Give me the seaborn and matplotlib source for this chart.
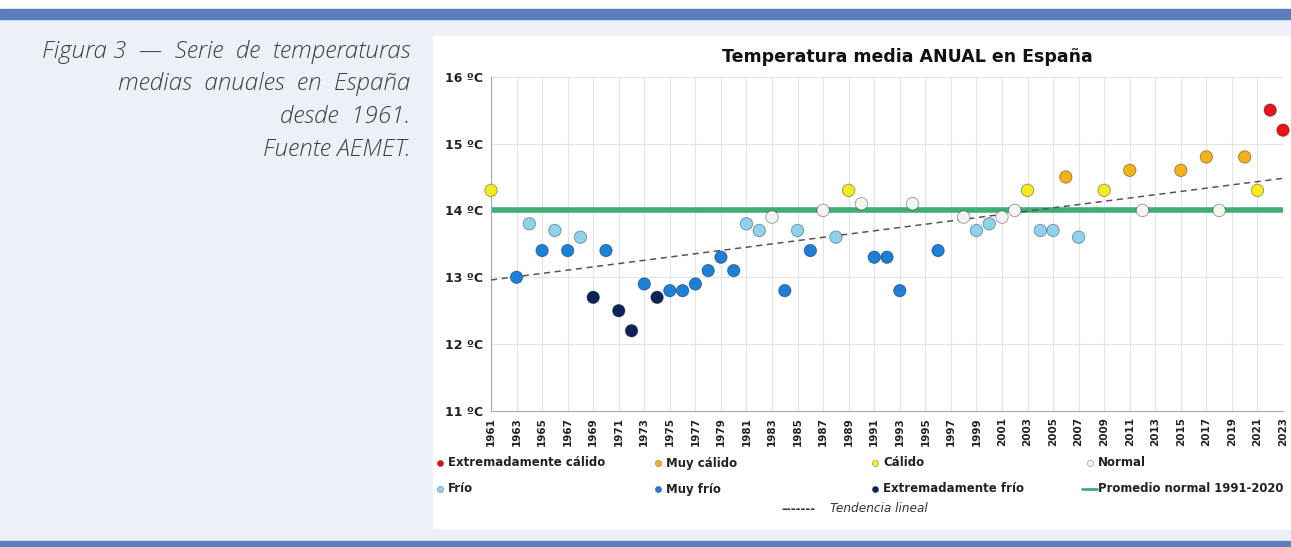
import numpy as np
import pandas as pd
import matplotlib.pyplot as plt
import seaborn as sns
from matplotlib.lines import Line2D
from matplotlib.patches import Rectangle

# Datos (AEMET), años visibles en el gráfico
anios = [1961, 1963, 1964, 1965, 1966, 1967, 1968, 1969, 1970, 1971,
         1972, 1973, 1974, 1975, 1976, 1977, 1978, 1979, 1980, 1981,
         1982, 1983, 1984, 1985, 1986, 1987, 1988, 1989, 1990, 1991,
         1992, 1993, 1994, 1996, 1998, 1999, 2000, 2001, 2002, 2003,
         2004, 2005, 2006, 2007, 2009, 2011, 2012, 2015, 2017, 2018,
         2020, 2021, 2022, 2023]
temperaturas = [14.3, 13.0, 13.8, 13.4, 13.7, 13.4, 13.6, 12.7, 13.4, 12.5,
                12.2, 12.9, 12.7, 12.8, 12.8, 12.9, 13.1, 13.3, 13.1, 13.8,
                13.7, 13.9, 12.8, 13.7, 13.4, 14.0, 13.6, 14.3, 14.1, 13.3,
                13.3, 12.8, 14.1, 13.4, 13.9, 13.7, 13.8, 13.9, 14.0, 14.3,
                13.7, 13.7, 14.5, 13.6, 14.3, 14.6, 14.0, 14.6, 14.8, 14.0,
                14.8, 14.3, 15.5, 15.2]
clases = ['Cálido', 'Muy frío', 'Frío', 'Muy frío', 'Frío', 'Muy frío', 'Frío',
          'Extremadamente frío', 'Muy frío', 'Extremadamente frío',
          'Extremadamente frío', 'Muy frío', 'Extremadamente frío', 'Muy frío',
          'Muy frío', 'Muy frío', 'Muy frío', 'Muy frío', 'Muy frío', 'Frío',
          'Frío', 'Normal', 'Muy frío', 'Frío', 'Muy frío', 'Normal', 'Frío',
          'Cálido', 'Normal', 'Muy frío', 'Muy frío', 'Muy frío', 'Normal',
          'Muy frío', 'Normal', 'Frío', 'Frío', 'Normal', 'Normal', 'Cálido',
          'Frío', 'Frío', 'Muy cálido', 'Frío', 'Cálido', 'Muy cálido',
          'Normal', 'Muy cálido', 'Muy cálido', 'Normal', 'Muy cálido',
          'Cálido', 'Extremadamente cálido', 'Extremadamente cálido']

promedio_normal = 14.0
tendencia_anios = [1961, 2023]
tendencia_valores = [12.96, 14.48]

colores = {
    'Extremadamente cálido': '#e8141b',
    'Muy cálido': '#f4b21a',
    'Cálido': '#f7ea1e',
    'Normal': '#f4f4f4',
    'Frío': '#8fd2ee',
    'Muy frío': '#1d80d6',
    'Extremadamente frío': '#0d2458',
}

df = pd.DataFrame({'anio': anios, 'temp': temperaturas, 'clase': clases})

sns.set_style('white')
plt.rcParams['font.family'] = ['DejaVu Sans']

W, H = 1291, 547
fig = plt.figure(figsize=(W / 100, H / 100), dpi=100, facecolor='#eef0f8')

# bandas y panel blanco de fondo
fig.add_artist(Rectangle((0, 1 - 9 / H), 1, 9 / H, transform=fig.transFigure,
                         color='white', zorder=-10))
fig.add_artist(Rectangle((0, 1 - 19 / H), 1, 10 / H, transform=fig.transFigure,
                         color='#5b7fbd', zorder=-10))
fig.add_artist(Rectangle((0, 0), 1, 6 / H, transform=fig.transFigure,
                         color='#5b7fbd', zorder=-10))
fig.add_artist(Rectangle((433 / W, 1 - 528 / H), (W - 433) / W, (528 - 36) / H,
                         transform=fig.transFigure, color='white', zorder=-10))

ax = fig.add_axes([491 / W, 1 - 411 / H, (1283 - 491) / W, (411 - 76.7) / H])
ax.set_facecolor('white')

ax.axhline(promedio_normal, color='#3fae72', lw=4, zorder=2)
sns.lineplot(x=tendencia_anios, y=tendencia_valores, ax=ax, color='#555555',
             lw=1.1, linestyle=(0, (4, 3)), zorder=3)
sns.scatterplot(data=df, x='anio', y='temp', hue='clase', palette=colores,
                s=80, edgecolor=(0, 0, 0, 0.35), linewidth=0.7, legend=False,
                ax=ax, zorder=4, clip_on=False)

ticks_x = list(range(1961, 2024, 2))
ticks_y = list(range(11, 17))
ax.set_xlim(1961, 2023)
ax.set_ylim(11, 16)
ax.set_xticks(ticks_x)
ax.set_xticklabels([str(a) for a in ticks_x], rotation=90, fontsize=7.5,
                   fontweight='bold', color='#222222')
ax.set_yticks(ticks_y)
ax.set_yticklabels([f'{v} ºC' for v in ticks_y], fontsize=9,
                   fontweight='bold', color='#222222')
ax.tick_params(axis='both', length=3, width=0.8, color='#a0a0a0', pad=1.5)
ax.tick_params(axis='y', pad=3)
ax.grid(True, color='#e4e4e4', lw=0.8)
ax.set_axisbelow(True)
ax.set_xlabel('')
ax.set_ylabel('')
for lado in ['top', 'right']:
    ax.spines[lado].set_visible(False)
for lado in ['left', 'bottom']:
    ax.spines[lado].set_color('#a8a8a8')
    ax.spines[lado].set_linewidth(0.8)

fig.text(907 / W, 1 - 57 / H, 'Temperatura media ANUAL en España',
         ha='center', va='center', fontsize=12.5, fontweight='bold',
         color='#111111')

# leyenda dibujada a mano, en rejilla de 4 columnas
cols_x = [440, 658, 875, 1090]
filas_y = [463, 489]
leyenda = [['Extremadamente cálido', 'Muy cálido', 'Cálido', 'Normal'],
           ['Frío', 'Muy frío', 'Extremadamente frío', None]]
for fila, y in zip(leyenda, filas_y):
    for nombre, x in zip(fila, cols_x):
        if nombre is None:
            continue
        fig.add_artist(Line2D([x / W], [1 - y / H], marker='o', ms=4.5,
                              mfc=colores[nombre], mec=(0, 0, 0, 0.35), mew=0.5,
                              transform=fig.transFigure))
        fig.text((x + 8) / W, 1 - y / H, nombre, ha='left', va='center',
                 fontsize=8.5, fontweight='bold', color='#222222')
fig.add_artist(Line2D([1082 / W, 1097 / W], [1 - 489 / H, 1 - 489 / H],
                      color='#3fae72', lw=2, transform=fig.transFigure))
fig.text(1098 / W, 1 - 489 / H, 'Promedio normal 1991-2020', ha='left',
         va='center', fontsize=8.4, fontweight='bold', color='#222222')
fig.text(781 / W, 1 - 509 / H, '-------', ha='left', va='center',
         fontsize=8.5, fontweight='bold', color='#333333')
fig.text(830 / W, 1 - 509 / H, 'Tendencia lineal', ha='left', va='center',
         fontsize=8.7, fontstyle='italic', color='#333333')

# pie de figura a la izquierda
pie = ['Figura 3  —  Serie  de  temperaturas', 'medias  anuales  en  España',
       'desde  1961.', 'Fuente AEMET.']
for i, linea in enumerate(pie):
    fig.text(410 / W, 1 - (58 + 32.5 * i) / H, linea, ha='right',
             va='baseline', fontsize=17.5, fontstyle='italic', fontweight='light',
             family=['Open Sans', 'DejaVu Sans'], color='#404040')

fig.savefig('out.png', dpi=100, facecolor=fig.get_facecolor())
